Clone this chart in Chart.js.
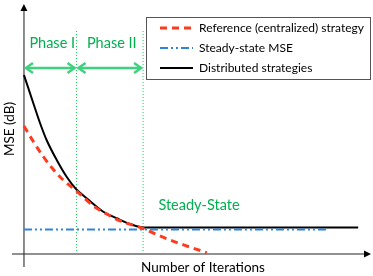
<!DOCTYPE html>
<html>
<head>
<meta charset="utf-8">
<script src="https://cdn.jsdelivr.net/npm/chart.js@4.4.0/dist/chart.umd.min.js"></script>
<style>
  html, body { margin: 0; padding: 0; background: #fff; }
  #wrap { width: 373px; height: 276px; position: relative; }
</style>
</head>
<body>
<div id="wrap"><canvas id="chart"></canvas></div>
<script>
// values (iterations vs MSE in arbitrary dB units)
const refIter = [0, 3.6, 7.4, 11.3, 15.1, 20, 26.7, 31.8, 36.9, 45.8, 49.7, 56.2, 62.6, 70.3];
const refMse = [51.2, 45, 39, 33.8, 29.6, 25.4, 19.2, 16, 13.3, 10.2, 8.4, 5.6, 3.2, 0.5];

const distIter = [0, 3.6, 6.2, 8.7, 12.6, 16.4, 20, 24.1, 30.5, 35.7, 40.8, 46, 128.5];
const distMse = [71.6, 60.3, 52.3, 45.6, 37.6, 30.9, 26, 22.3, 16.9, 14.3, 12, 10.6, 10.6];

const steadyIter = [0, 116.5];
const steadyMse = [9.8, 9.8];

const phaseBounds = [20.2, 45.8];
const phaseLabels = ['Phase I', 'Phase II'];
const phaseTop = 90;

const FONT = 'Lato, "Open Sans", sans-serif';
const GREEN = '#00b050';

function pts(xs, ys) {
  return xs.map((x, i) => ({ x, y: ys[i] }));
}

const datasets = [
  {
    label: 'Reference (centralized) strategy',
    data: pts(refIter, refMse),
    borderColor: '#ff3b1f',
    borderWidth: 3,
    borderDash: [7, 5],
    cubicInterpolationMode: 'monotone'
  },
  {
    label: 'Steady-state MSE',
    data: pts(steadyIter, steadyMse),
    borderColor: '#2f86d6',
    borderWidth: 2,
    borderDash: [8, 3, 2, 3, 2, 3]
  },
  {
    label: 'Distributed strategies',
    data: pts(distIter, distMse),
    borderColor: '#000',
    borderWidth: 2,
    cubicInterpolationMode: 'monotone'
  }
];

phaseBounds.forEach(b => {
  datasets.push({
    label: '',
    data: pts([b, b], [0, phaseTop]),
    borderColor: '#1fcf5f',
    borderWidth: 1,
    borderDash: [1, 2]
  });
});

datasets.forEach(d => { d.pointRadius = 0; d.fill = false; });

function arrowHead(ctx, x, y, dir) {
  ctx.beginPath();
  ctx.moveTo(x - dir * 7, y - 5);
  ctx.lineTo(x, y);
  ctx.lineTo(x - dir * 7, y + 5);
  ctx.stroke();
}

const decor = {
  id: 'decor',
  beforeDatasetsDraw(chart) {
    const { ctx, scales: { x, y } } = chart;
    const x0 = x.getPixelForValue(0);
    const y0 = y.getPixelForValue(0);
    ctx.save();
    // y axis
    ctx.strokeStyle = '#666';
    ctx.lineWidth = 1.5;
    ctx.beginPath();
    ctx.moveTo(x0, chart.chartArea.bottom);
    ctx.lineTo(x0, chart.chartArea.top + 5);
    ctx.stroke();
    ctx.fillStyle = '#000';
    ctx.beginPath();
    ctx.moveTo(x0, chart.chartArea.top);
    ctx.lineTo(x0 - 3.5, chart.chartArea.top + 7);
    ctx.lineTo(x0 + 3.5, chart.chartArea.top + 7);
    ctx.closePath();
    ctx.fill();
    // x axis
    ctx.strokeStyle = '#222';
    ctx.lineWidth = 1.2;
    ctx.beginPath();
    ctx.moveTo(chart.chartArea.left, y0);
    ctx.lineTo(chart.chartArea.right - 6, y0);
    ctx.stroke();
    ctx.beginPath();
    ctx.moveTo(chart.chartArea.right - 2, y0);
    ctx.lineTo(chart.chartArea.right - 9, y0 - 3.5);
    ctx.lineTo(chart.chartArea.right - 9, y0 + 3.5);
    ctx.closePath();
    ctx.fill();
    ctx.restore();
  },
  afterDatasetsDraw(chart) {
    const { ctx, scales: { x, y } } = chart;
    ctx.save();
    // phase arrows and labels
    const bounds = [0].concat(phaseBounds);
    const ay = y.getPixelForValue(74.4);
    ctx.strokeStyle = '#3ed27f';
    ctx.lineWidth = 2.5;
    ctx.fillStyle = GREEN;
    ctx.font = '14.5px ' + FONT;
    ctx.textAlign = 'center';
    ctx.textBaseline = 'middle';
    for (let i = 0; i < phaseLabels.length; i++) {
      const l = x.getPixelForValue(bounds[i]) + 2;
      const r = x.getPixelForValue(bounds[i + 1]) - 2;
      ctx.beginPath();
      ctx.moveTo(l, ay);
      ctx.lineTo(r, ay);
      ctx.stroke();
      arrowHead(ctx, l, ay, -1);
      arrowHead(ctx, r, ay, 1);
      ctx.fillText(phaseLabels[i], (l + r) / 2 + 2, y.getPixelForValue(84.4));
    }
    ctx.fillText('Steady-State', 199, 205);

    // axis titles
    ctx.fillStyle = '#000';
    ctx.font = '13.5px ' + FONT;
    ctx.fillText('Number of Iterations', 203, 268);
    ctx.save();
    ctx.translate(10, 129);
    ctx.rotate(-Math.PI / 2);
    ctx.fillText('MSE (dB)', 0, 0);
    ctx.restore();

    // legend box
    ctx.fillStyle = '#fff';
    ctx.fillRect(146, 17, 225, 63);
    ctx.strokeStyle = '#555';
    ctx.lineWidth = 1;
    ctx.strokeRect(146.5, 17.5, 224, 62);
    ctx.font = '12px ' + FONT;
    ctx.textAlign = 'left';
    const rows = [28, 48, 68];
    chart.data.datasets.filter(d => d.label).forEach((d, i) => {
      ctx.strokeStyle = d.borderColor;
      ctx.lineWidth = d.borderWidth;
      ctx.setLineDash(d.borderDash || []);
      ctx.beginPath();
      ctx.moveTo(160, rows[i]);
      ctx.lineTo(193, rows[i]);
      ctx.stroke();
      ctx.setLineDash([]);
      ctx.fillStyle = '#000';
      ctx.fillText(d.label, 199, rows[i]);
    });
    ctx.restore();
  }
};

new Chart(document.getElementById('chart'), {
  type: 'line',
  data: { datasets },
  options: {
    responsive: true,
    maintainAspectRatio: false,
    animation: false,
    layout: { padding: { left: 12, top: 4, right: 0, bottom: 9 } },
    plugins: { legend: { display: false }, tooltip: { enabled: false } },
    scales: {
      x: { type: 'linear', min: -4.6, max: 134.2, display: false },
      y: { type: 'linear', min: -5.2, max: 100, display: false }
    }
  },
  plugins: [decor]
});
</script>
</body>
</html>
